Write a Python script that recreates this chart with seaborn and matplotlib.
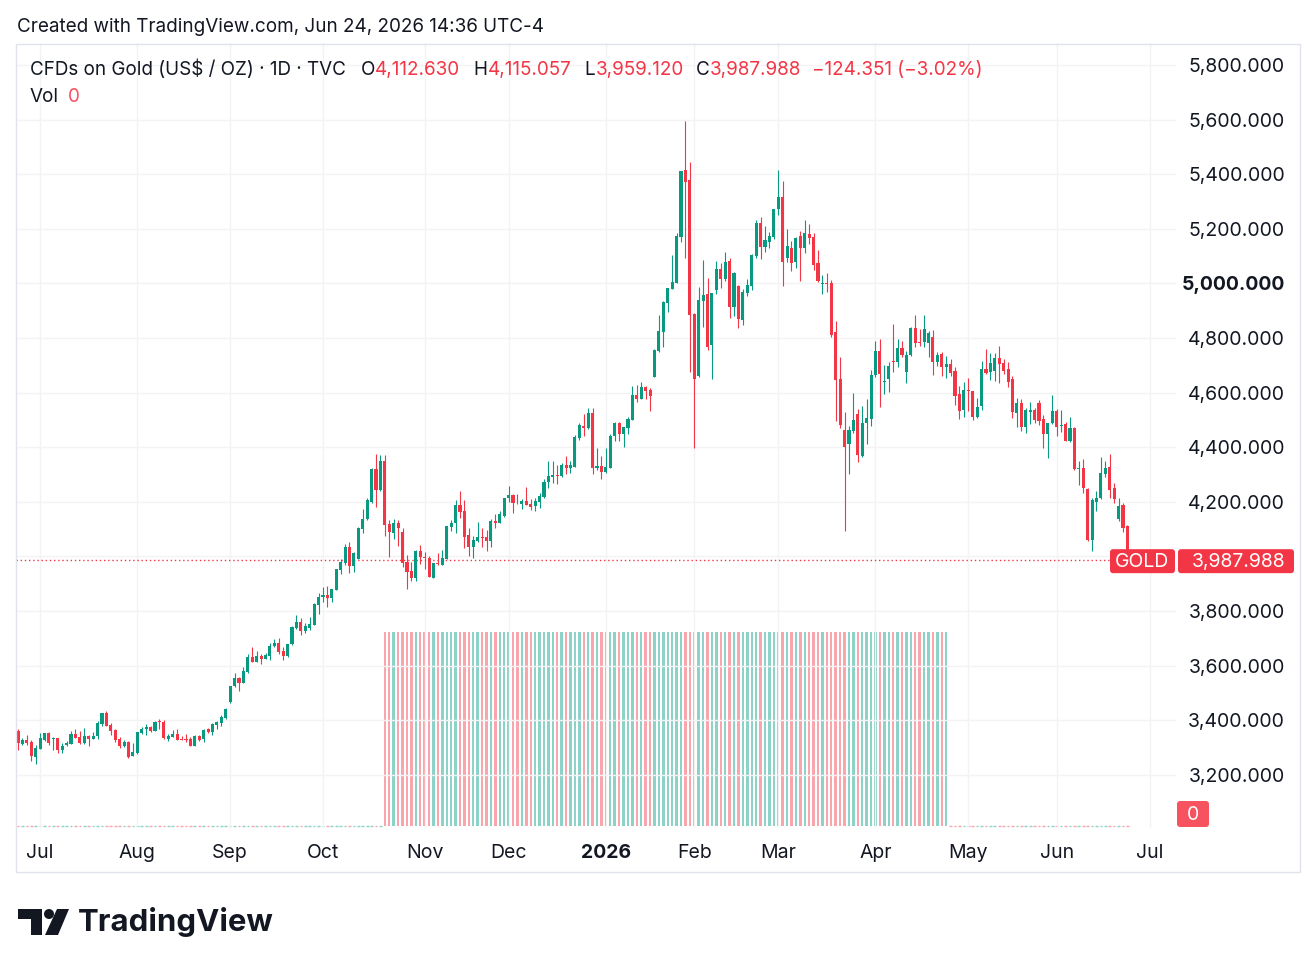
import matplotlib
matplotlib.use("Agg")
import matplotlib.pyplot as plt
from matplotlib.patches import FancyBboxPatch, Rectangle, Polygon, Circle
import seaborn as sns
import numpy as np
import pandas as pd

# ---------------- data ----------------
opens = [3361.6, 3312.8, 3327.5, 3320.1, 3266.4, 3295.7, 3327.5, 3353.1, 3332.3, 3333.6,
 3292.0, 3307.9, 3314.0, 3349.4, 3338.4, 3315.2, 3342.1, 3331.1, 3342.1, 3387.3,
 3426.4, 3383.6, 3365.3, 3331.1, 3305.5, 3321.4, 3270.1, 3278.7, 3353.1, 3366.6,
 3375.1, 3361.7, 3395.9, 3393.4, 3331.2, 3339.7, 3348.3, 3331.2, 3331.2, 3329.9,
 3306.7, 3342.2, 3331.2, 3367.8, 3356.8, 3383.7, 3388.5, 3408.1, 3465.5, 3524.1,
 3554.6, 3537.5, 3575.3, 3631.5, 3614.4, 3634.0, 3625.4, 3636.4, 3673.0, 3682.8,
 3652.2, 3636.4, 3677.9, 3739.0, 3759.7, 3728.0, 3737.7, 3748.7, 3822.0, 3851.3,
 3858.6, 3848.8, 3878.1, 3951.4, 3977.0, 4034.4, 3966.1, 3991.7, 4100.4, 4137.0,
 4199.3, 4319.0, 4243.2, 4349.5, 4118.7, 4087.0, 4122.4, 4090.6, 3978.3, 3945.3,
 3922.1, 4019.8, 3997.8, 3993.0, 3922.1, 3977.0, 3969.7, 3991.7, 4109.0, 4121.1,
 4188.3, 4166.3, 4078.4, 4035.6, 4057.6, 4071.0, 4071.0, 4057.6, 4130.9, 4123.5,
 4149.2, 4215.1, 4223.6, 4200.5, 4193.1, 4202.9, 4191.9, 4183.3, 4200.5, 4218.8,
 4273.7, 4292.0, 4298.1, 4295.7, 4333.5, 4325.0, 4328.7, 4434.9, 4478.9, 4471.6,
 4525.3, 4323.8, 4331.1, 4309.2, 4325.0, 4442.3, 4487.4, 4449.6, 4469.1, 4500.9,
 4591.2, 4577.8, 4620.6, 4608.3, 4658.4, 4752.4, 4823.2, 4929.4, 4980.7, 5002.7,
 5171.2, 5415.4, 5378.8, 4888.0, 4660.8, 4935.5, 4961.2, 4774.4, 4975.9, 5052.8,
 5016.2, 5082.1, 4913.6, 4991.7, 4866.0, 4966.1, 4991.7, 5100.4, 5221.3, 5134.6,
 5152.9, 5171.2, 5273.8, 5316.5, 5094.2, 5129.7, 5079.6, 5172.4, 5130.9, 5180.9,
 5170.0, 5074.7, 4997.8, 5001.5, 5000.2, 4822.0, 4649.8, 4463.0, 4410.5, 4460.5,
 4521.6, 4366.5, 4488.6, 4504.5, 4664.5, 4752.4, 4640.1, 4651.2, 4717.0, 4712.1,
 4762.2, 4676.7, 4736.5, 4836.7, 4785.4, 4784.2, 4782.9, 4804.9, 4712.1, 4742.6,
 4695.0, 4706.0, 4677.9, 4596.1, 4535.1, 4609.6, 4605.9, 4511.9, 4549.7, 4686.5,
 4676.7, 4678.0, 4728.0, 4707.2, 4685.2, 4648.6, 4524.1, 4563.2, 4475.2, 4530.2,
 4536.3, 4562.0, 4503.3, 4448.4, 4488.6, 4532.6, 4477.7, 4485.0, 4424.0, 4470.4,
 4321.4, 4325.0, 4246.9, 4060.1, 4200.5, 4212.7, 4301.9, 4327.5, 4250.6, 4135.8,
 4189.5, 4112.63]

highs = [3366.5, 3333.6, 3345.8, 3327.5, 3309.1, 3354.3, 3354.3, 3358.0, 3338.4, 3336.0,
 3315.2, 3323.8, 3361.6, 3367.8, 3359.2, 3371.4, 3344.6, 3358.0, 3397.0, 3428.0,
 3432.5, 3388.0, 3367.8, 3339.7, 3327.5, 3323.0, 3317.7, 3358.0, 3373.9, 3384.9,
 3380.0, 3398.3, 3403.2, 3400.8, 3349.5, 3364.1, 3367.8, 3342.2, 3348.3, 3338.5,
 3344.6, 3345.8, 3369.0, 3370.2, 3388.5, 3397.1, 3417.9, 3446.0, 3526.5, 3572.9,
 3557.0, 3596.0, 3642.5, 3666.9, 3654.7, 3641.3, 3647.4, 3681.5, 3697.4, 3699.9,
 3666.9, 3680.3, 3746.3, 3785.3, 3773.1, 3754.8, 3776.8, 3829.3, 3864.7, 3886.7,
 3890.3, 3881.8, 3955.0, 3990.0, 4045.0, 4054.0, 4015.0, 4106.5, 4174.9, 4214.0,
 4325.0, 4375.1, 4371.5, 4371.5, 4133.4, 4138.2, 4134.6, 4102.8, 4003.9, 3980.7,
 4023.5, 4041.8, 4016.2, 4001.5, 3977.0, 4011.3, 4023.5, 4112.6, 4133.4, 4206.6,
 4239.5, 4206.6, 4104.0, 4075.9, 4126.0, 4104.0, 4097.9, 4137.0, 4155.3, 4166.3,
 4215.1, 4257.8, 4229.7, 4228.5, 4211.5, 4252.9, 4211.5, 4215.1, 4231.0, 4282.3,
 4349.4, 4348.2, 4333.5, 4340.8, 4367.7, 4349.5, 4444.7, 4489.9, 4521.6, 4543.6,
 4543.6, 4395.9, 4367.8, 4395.9, 4448.4, 4492.3, 4492.3, 4475.2, 4511.9, 4624.2,
 4627.9, 4637.6, 4624.2, 4616.9, 4759.7, 4884.3, 4935.5, 4984.4, 5104.0, 5185.9,
 5413.0, 5594.9, 5443.5, 4890.0, 4988.0, 5085.8, 5021.0, 4966.1, 5082.1, 5073.5,
 5113.7, 5093.1, 5041.8, 4995.4, 4978.3, 5017.4, 5106.0, 5232.3, 5244.5, 5211.5,
 5189.6, 5273.5, 5415.4, 5376.3, 5199.3, 5154.0, 5171.2, 5193.2, 5232.2, 5217.6,
 5183.4, 5122.3, 5030.8, 5039.3, 5012.4, 4862.3, 4730.4, 4528.9, 4477.6, 4599.8,
 4539.9, 4550.9, 4576.5, 4682.8, 4789.0, 4796.3, 4701.0, 4712.0, 4851.3, 4795.2,
 4789.0, 4751.2, 4841.6, 4883.0, 4831.8, 4884.3, 4826.9, 4829.3, 4748.8, 4748.8,
 4732.9, 4723.1, 4695.0, 4625.4, 4638.9, 4652.3, 4607.0, 4579.0, 4715.8, 4759.7,
 4743.9, 4743.9, 4770.7, 4721.9, 4710.9, 4659.6, 4579.0, 4575.4, 4544.8, 4565.6,
 4542.4, 4572.9, 4519.2, 4490.0, 4591.2, 4538.7, 4537.5, 4493.6, 4509.4, 4475.2,
 4349.5, 4356.8, 4251.8, 4215.2, 4239.6, 4364.1, 4350.7, 4375.1, 4267.7, 4213.9,
 4194.4, 4115.057]

lows = [3290.8, 3307.9, 3309.1, 3251.8, 3239.5, 3293.3, 3325.0, 3307.9, 3290.8, 3281.0,
 3278.6, 3305.5, 3312.8, 3333.6, 3314.0, 3311.6, 3306.7, 3329.9, 3332.3, 3380.0,
 3377.5, 3345.8, 3320.1, 3296.9, 3303.0, 3262.7, 3268.8, 3275.0, 3349.5, 3347.0,
 3356.8, 3359.2, 3369.0, 3332.4, 3325.1, 3337.3, 3326.3, 3327.5, 3318.9, 3305.5,
 3305.5, 3323.8, 3318.9, 3354.4, 3347.0, 3369.0, 3380.0, 3405.6, 3463.0, 3521.6,
 3507.0, 3535.0, 3572.9, 3612.0, 3612.0, 3607.1, 3622.9, 3621.7, 3668.1, 3643.7,
 3621.7, 3632.7, 3675.5, 3735.3, 3713.3, 3718.2, 3731.6, 3747.5, 3789.0, 3834.2,
 3815.8, 3834.2, 3875.7, 3935.5, 3970.0, 3940.4, 3944.1, 3989.3, 4087.0, 4133.4,
 4196.8, 4182.2, 4240.8, 4076.0, 3999.1, 4062.6, 4038.1, 3962.4, 3881.8, 3910.0,
 3911.1, 3971.0, 3952.6, 3925.0, 3920.9, 3968.5, 3968.5, 3990.5, 4094.3, 4084.5,
 4141.8, 4029.5, 4001.4, 3995.3, 4053.9, 4034.4, 4021.0, 4035.6, 4105.2, 4123.0,
 4145.5, 4200.5, 4160.2, 4191.9, 4172.4, 4187.0, 4169.9, 4167.5, 4178.5, 4215.1,
 4251.7, 4270.0, 4266.4, 4292.0, 4303.0, 4306.7, 4327.5, 4427.6, 4442.3, 4467.9,
 4300.6, 4316.5, 4282.3, 4305.5, 4323.8, 4424.0, 4421.5, 4402.0, 4448.4, 4499.6,
 4566.8, 4576.6, 4577.8, 4532.6, 4655.9, 4749.9, 4768.3, 4896.5, 4978.3, 5000.3,
 5152.9, 5094.3, 4676.7, 4398.3, 4658.0, 4841.6, 4756.1, 4651.0, 4961.2, 4982.0,
 5010.1, 4873.3, 4880.6, 4836.7, 4847.6, 4953.9, 4975.9, 5094.3, 5088.2, 5115.1,
 5130.9, 5161.5, 5250.6, 4991.7, 5079.6, 5046.6, 5057.6, 5010.0, 5112.6, 5145.5,
 5049.1, 5005.1, 4961.2, 4968.5, 4802.4, 4496.0, 4470.3, 4094.2, 4303.0, 4453.2,
 4347.0, 4364.1, 4411.7, 4477.6, 4657.2, 4548.5, 4594.9, 4602.2, 4676.7, 4695.0,
 4729.2, 4636.4, 4734.1, 4768.3, 4769.5, 4765.8, 4731.7, 4664.5, 4698.7, 4662.1,
 4654.7, 4662.1, 4554.6, 4503.3, 4510.7, 4531.4, 4498.4, 4505.8, 4537.5, 4666.9,
 4644.9, 4643.7, 4633.9, 4666.9, 4621.8, 4508.2, 4475.2, 4460.6, 4450.8, 4483.8,
 4487.5, 4482.6, 4398.3, 4361.7, 4486.2, 4442.3, 4456.9, 4422.7, 4420.3, 4316.5,
 4261.6, 4233.5, 4058.0, 4021.0, 4167.5, 4210.3, 4292.1, 4212.7, 4196.8, 4129.7,
 4088.2, 3959.12]

closes = [3315.2, 3327.5, 3317.7, 3267.6, 3298.1, 3333.6, 3353.1, 3317.7, 3336.0, 3292.0,
 3305.5, 3317.7, 3349.4, 3336.0, 3316.5, 3342.1, 3332.3, 3342.1, 3391.0, 3426.4,
 3380.0, 3361.6, 3328.7, 3305.5, 3321.4, 3266.4, 3283.5, 3355.6, 3369.0, 3375.1,
 3359.2, 3394.7, 3393.4, 3334.8, 3342.2, 3349.5, 3327.5, 3328.7, 3328.7, 3306.7,
 3343.4, 3328.7, 3365.3, 3356.8, 3387.3, 3392.2, 3411.7, 3441.1, 3524.1, 3554.6,
 3537.5, 3579.0, 3631.5, 3614.4, 3635.2, 3624.2, 3638.8, 3671.8, 3682.8, 3651.0,
 3636.4, 3679.1, 3741.4, 3759.7, 3728.0, 3745.0, 3752.4, 3826.8, 3851.3, 3858.6,
 3848.8, 3880.6, 3952.6, 3980.7, 4034.4, 3966.1, 4011.3, 4104.0, 4137.0, 4205.4,
 4321.4, 4243.2, 4349.5, 4115.0, 4090.6, 4122.4, 4104.0, 3974.6, 3944.1, 3922.1,
 4019.8, 3996.6, 3994.2, 3925.8, 3974.6, 3972.2, 3994.2, 4111.4, 4122.4, 4188.3,
 4162.6, 4071.0, 4035.6, 4060.1, 4072.2, 4068.6, 4057.6, 4130.9, 4123.5, 4155.3,
 4213.9, 4223.6, 4196.8, 4198.0, 4202.9, 4189.4, 4182.1, 4202.9, 4221.2, 4272.5,
 4294.5, 4298.1, 4295.7, 4333.5, 4325.0, 4334.8, 4437.4, 4481.3, 4471.6, 4525.3,
 4325.0, 4331.1, 4310.4, 4326.3, 4442.3, 4487.4, 4449.6, 4472.8, 4503.3, 4591.2,
 4576.6, 4620.6, 4605.9, 4587.6, 4757.3, 4825.7, 4931.9, 4981.9, 5005.2, 5173.7,
 5411.8, 5372.7, 4885.5, 4651.0, 4939.2, 4957.5, 4768.3, 4963.6, 5052.8, 5017.4,
 5078.5, 4913.6, 5039.3, 4869.6, 4969.8, 4995.4, 5105.2, 5222.5, 5134.6, 5160.2,
 5173.7, 5272.6, 5316.5, 5079.6, 5137.0, 5075.9, 5166.3, 5130.9, 5185.8, 5167.5,
 5068.6, 5010.0, 5001.5, 4997.8, 4812.2, 4646.1, 4482.5, 4399.5, 4463.0, 4499.6,
 4372.6, 4488.6, 4508.2, 4664.5, 4752.4, 4668.1, 4643.8, 4697.4, 4712.1, 4764.6,
 4739.0, 4737.8, 4836.7, 4782.9, 4782.9, 4833.0, 4819.6, 4713.3, 4736.5, 4695.0,
 4704.8, 4671.8, 4587.6, 4532.6, 4609.6, 4605.9, 4511.9, 4548.5, 4686.5, 4670.6,
 4709.7, 4728.0, 4703.6, 4680.4, 4640.1, 4530.2, 4563.2, 4475.2, 4536.3, 4536.3,
 4499.6, 4497.2, 4448.4, 4488.6, 4532.6, 4475.2, 4481.3, 4424.0, 4470.4, 4321.4,
 4325.0, 4251.8, 4060.1, 4206.6, 4212.7, 4304.3, 4325.0, 4244.5, 4209.0, 4185.8,
 4105.3, 3987.988]

# volume: zero before late Oct, equal-height bars until late Apr, zero afterwards
volume = [0] * 83 + [1] * 128 + [0] * 41

holidays = ["2025-07-04", "2025-09-01", "2025-11-27", "2025-12-25", "2026-01-01",
            "2026-01-19", "2026-02-16", "2026-04-03", "2026-05-25", "2026-06-19"]
month_labels = ["Jul", "Aug", "Sep", "Oct", "Nov", "Dec", "2026", "Feb", "Mar",
                "Apr", "May", "Jun", "Jul"]
grid_levels = [3200, 3400, 3600, 3800, 4000, 4200, 4400, 4600, 4800, 5000, 5200, 5400, 5600, 5800]
price_ticks = [3200, 3400, 3600, 3800, 4200, 4400, 4600, 4800, 5000, 5200, 5400, 5600, 5800]

legend_title = "CFDs on Gold (US$ / OZ) · 1D · TVC"
change_text = "\u2212124.351 (\u22123.02%)"
header_text = "Created with TradingView.com, Jun 24, 2026 14:36 UTC-4"

# ---------------- style ----------------
sns.set_theme(style="white")
plt.rcParams['font.family'] = ['Inter', 'DejaVu Sans']

GREEN = "#089981"
RED = "#f23645"
VGREEN = "#8dd2c6"
VRED = "#f8a5ac"
GRID = "#f3f3f5"
TXT = "#131722"
FS = 13.6
AFS = 14.0

W, H = 1316, 969
fig = plt.figure(figsize=(W / 100, H / 100), dpi=100)
fig.patch.set_facecolor("white")

PL, PR, PT, PB = 16, 1176, 43, 828
BX0, BDX = 18.0, 4.42
YMIN, YMAX = 3005.1, 5880.6

ax = fig.add_axes([PL / W, 1 - PB / H, (PR - PL) / W, (PB - PT) / H])
vax = ax.twinx()
ax.set_zorder(vax.get_zorder() + 1)
ax.patch.set_visible(False)

all_days = pd.bdate_range("2025-06-24", "2026-07-10")
all_days = all_days[~all_days.isin(pd.to_datetime(holidays))]
n = len(closes)
pos = np.arange(n)
month_starts = pd.date_range("2025-07-01", "2026-07-01", freq="MS")
month_pos = [int(np.searchsorted(all_days.values, m.to_datetime64())) for m in month_starts]

df = pd.DataFrame({"pos": pos, "open": opens, "high": highs, "low": lows,
                   "close": closes, "volume": volume})
df["up"] = df["close"] >= df["open"]
colors = np.where(df["up"], GREEN, RED)
vcolors = np.where(df["up"], VGREEN, VRED)

xlo, xhi = (PL - BX0) / BDX, (PR - BX0) / BDX
ax.set_xlim(xlo, xhi)
ax.set_ylim(YMIN, YMAX)

# grid
for g in grid_levels:
    ax.axhline(g, color=GRID, lw=1, zorder=0)
for mp in month_pos:
    ax.axvline(mp, color=GRID, lw=1, zorder=0)

# candles
ax.vlines(df["pos"], df["low"], df["high"], colors=colors, linewidth=0.8, zorder=3)
body_bottom = np.minimum(df["open"], df["close"])
body_h = np.maximum(np.abs(df["close"] - df["open"]), 3.0)
ax.bar(df["pos"], body_h, bottom=body_bottom, width=0.7, color=colors, linewidth=0, zorder=4)

# volume
vmax = max(df["volume"].max(), 1)
vax.set_ylim(-(PB - 826) / (826 - 632) * vmax, (826 - PT) / (826 - 632) * vmax)
nz = df["volume"] > 0
vax.bar(df["pos"][nz], df["volume"][nz], width=0.55, color=vcolors[nz.values], linewidth=0)
z = ~nz
vax.hlines(np.zeros(z.sum()), df["pos"][z] - 0.3, df["pos"][z] + 0.3,
           colors=vcolors[z.values], linewidth=1)
vax.axis("off")

# last price dotted line
last = closes[-1]
ax.hlines(last, xlo, (1110 - BX0) / BDX, colors=RED, linestyles=[(0, (1, 2))], lw=1, zorder=2)

# axes ticks
ax.yaxis.tick_right()
ax.set_yticks(price_ticks)
ax.set_yticklabels([f"{v:,.3f}" for v in price_ticks])
ax.tick_params(axis="y", length=0, pad=78.5, labelsize=AFS, labelcolor=TXT)
for t, v in zip(ax.get_yticklabels(), price_ticks):
    t.set_horizontalalignment("right")
    if v == 5000:
        t.set_fontweight("bold")
ax.set_xticks(month_pos)
ax.set_xticklabels(month_labels)
ax.tick_params(axis="x", length=0, pad=11.5, labelsize=AFS, labelcolor=TXT)
for t, lab in zip(ax.get_xticklabels(), month_labels):
    if lab == "2026":
        t.set_fontweight("bold")
for s in ax.spines.values():
    s.set_visible(False)
ax.grid(False)

# ---------------- overlay (pixel coordinates) ----------------
ov = fig.add_axes([0, 0, 1, 1])
ov.set_xlim(0, W)
ov.set_ylim(H, 0)
ov.axis("off")
ov.set_zorder(10)
ov.patch.set_visible(False)

ov.add_patch(Rectangle((15.5, 43.5), 1284.5, 828.5, fill=False, ec="#e0e3eb", lw=1))

ov.text(17, 26.5, header_text, fontsize=FS, color=TXT, va="center", ha="left")

pieces = [(legend_title, 30, TXT), ("O", 361, TXT), (f"{opens[-1]:,.3f}", 375, RED),
          ("H", 473, TXT), (f"{highs[-1]:,.3f}", 488, RED),
          ("L", 584, TXT), (f"{lows[-1]:,.3f}", 596, RED),
          ("C", 696, TXT), (f"{closes[-1]:,.3f}", 710, RED),
          (change_text, 812, RED)]
for txt, xp, c in pieces:
    ov.text(xp, 69.5, txt, fontsize=FS, color=c, va="center", ha="left")
ov.text(30, 96.5, "Vol", fontsize=FS, color=TXT, va="center", ha="left")
ov.text(68, 96.5, f"{volume[-1]}", fontsize=FS, color="#f7525f", va="center", ha="left")

def price_px(p):
    return PT + (YMAX - p) / (YMAX - YMIN) * (PB - PT)

yc = price_px(last) + 1.5
ov.add_patch(FancyBboxPatch((1110, yc - 12), 65, 24, boxstyle="round,pad=0,rounding_size=3",
                            fc=RED, ec="none"))
ov.text(1142.5, yc + 0.5, "GOLD", fontsize=AFS, color="white", ha="center", va="center")
ov.add_patch(FancyBboxPatch((1178, yc - 12), 116, 24, boxstyle="round,pad=0,rounding_size=3",
                            fc=RED, ec="none"))
ov.text(1285, yc + 0.5, f"{last:,.3f}", fontsize=AFS, color="white", ha="right", va="center")

ov.add_patch(FancyBboxPatch((1177, 801), 32, 26, boxstyle="round,pad=0,rounding_size=3",
                            fc="#f7525f", ec="none"))
ov.text(1193, 814.5, f"{volume[-1]}", fontsize=AFS, color="white", ha="center", va="center")

# TradingView logo
ov.add_patch(Polygon([(18, 909), (42, 909), (42, 935), (31, 935), (31, 919), (18, 919)],
                     closed=True, fc=TXT, ec="none"))
ov.add_patch(Circle((49, 914), 5, fc=TXT, ec="none"))
ov.add_patch(Polygon([(57, 909), (69, 909), (58, 935), (45, 935)], closed=True, fc=TXT, ec="none"))
ov.text(78, 922, "TradingView", fontsize=22.4, fontweight="bold", color=TXT, va="center", ha="left")

fig.savefig("out.png", dpi=100, facecolor="white")
